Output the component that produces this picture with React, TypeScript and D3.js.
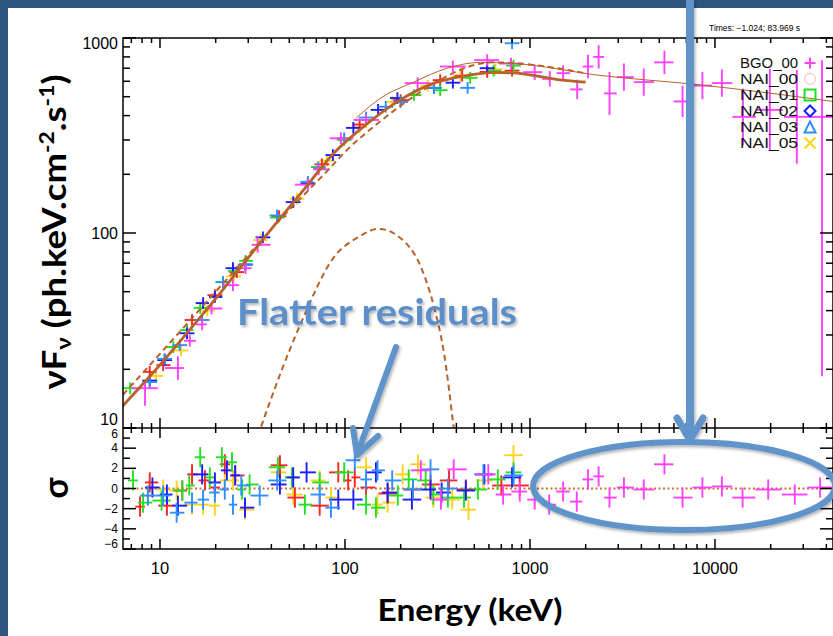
import React from "react";
import * as d3 from "d3";

// nuFnu spectrum, energies in keV
const modelE = [6.3, 9.17, 14, 21.1, 31.8, 48.5, 57.8, 87.2, 133, 200, 303, 460, 636, 850, 1450, 2000];
const modelF = [13, 19.2, 30.7, 49, 80, 131, 160, 257, 366, 483, 587, 643, 667, 660, 610, 594];
const bandE = [6.3, 10, 20, 30, 43, 77, 104, 156, 220, 318, 460, 636, 1040, 1980];
const bandF = [14.8, 24, 50, 77, 113, 200, 270, 375, 480, 600, 710, 750, 728, 660];
const thinE = [115, 156, 235, 357, 541, 822, 2390, 8300, 43400];
const thinF = [389, 492, 594, 700, 750, 740, 643, 575, 473];
const bbE = [30, 35, 57.8, 87, 117.6, 152, 200, 257, 303, 343, 384, 420];
const bbF = [6.5, 10, 34.5, 75, 95, 105, 94, 67, 41.7, 24.2, 10.6, 5];

const nai00E = [8.8, 10.4, 14.9, 19.8, 26, 44, 75, 120, 200, 327, 430, 587, 800];
const nai00F = [19.4, 21, 35.8, 48, 63, 122, 225, 360, 480, 608, 640, 670, 680];
const nai01E = [6.9, 11.8, 14, 16.5, 21.9, 24.8, 29, 43, 71.8, 99, 130, 236, 327, 475, 636, 815];
const nai01F = [16, 26, 31.8, 41.3, 56, 64, 72, 120, 218, 300, 380, 510, 540, 625, 680, 722];
const nai02E = [8.8, 10.6, 14, 17.1, 19.8, 24.8, 28.9, 36, 52.5, 63, 86, 111, 151, 192, 303, 383, 587];
const nai02F = [17.5, 22.3, 30.6, 43.7, 47, 66, 69, 95, 144, 180, 251, 346, 428, 492, 555, 590, 700];
const nai03E = [8.8, 10.6, 12.8, 16.9, 21.9, 28.9, 42.9, 63, 71.8, 99, 130, 166, 200, 303, 460, 800];
const nai03F = [17.2, 22.6, 26.6, 35.8, 56, 68.5, 123, 183, 215, 306, 391, 444, 470, 555, 555, 940];
const nai05E = [9.5, 13, 18, 25, 35, 55, 80, 120, 180, 280, 420, 650];
const nai05F = [18.5, 25, 40, 60, 92, 150, 235, 350, 470, 570, 640, 690];

const bgoE = [8.3, 12.5, 14.5, 16.9, 19, 24.8, 29, 33.7, 63, 72, 95, 130, 247, 383, 587, 790, 1060, 1280, 1510, 1800, 2060, 2350, 2690, 3220, 4120, 5330, 6680, 8550, 10900, 14170, 19800, 27700, 37900];
const bgoF = [16, 20.3, 28, 34, 41, 54, 66, 87, 177, 212, 306, 380, 587, 714, 770, 740, 668, 617, 660, 545, 714, 800, 520, 630, 594, 750, 473, 570, 587, 394, 428, 394, 394];
const bgoUp = [0.03, 0.06, 0.03, 0.03, 0.03, 0.03, 0.03, 0.04, 0.03, 0.03, 0.03, 0.03, 0.03, 0.03, 0.03, 0.03, 0.04, 0.04, 0.04, 0.05, 0.06, 0.06, 0.11, 0.07, 0.07, 0.06, 0.08, 0.07, 0.07, 0.145, 0.21, 0.24, 0.29];
const bgoDn = [0.09, 0.06, 0.03, 0.03, 0.03, 0.03, 0.03, 0.04, 0.03, 0.03, 0.03, 0.03, 0.03, 0.03, 0.03, 0.03, 0.04, 0.04, 0.04, 0.05, 0.06, 0.06, 0.11, 0.07, 0.07, 0.06, 0.08, 0.07, 0.07, 0.145, 0.21, 0.24, 1.33];

// residuals in sigma
const nai00RE = [7.8, 8.8, 10.9, 13.2, 14.9, 17.5, 19.8, 22.4, 25.5, 44.5, 53.6, 73, 92, 104, 113, 130, 170, 233, 290, 365, 450, 700, 880];
const nai00R = [-1.8, 0.6, -1.7, -0.2, 1.4, 0.8, 0.1, 2.4, 1.3, 2.3, -0.9, -1.7, 1.6, 0.8, 1.1, 0.1, -0.5, -0.1, 0.4, 0.8, -0.1, 0.3, 0.3];
const nai01RE = [7.15, 8.1, 10.2, 13.2, 14.4, 16.5, 18.6, 21.6, 24.5, 27.8, 30.5, 43.4, 51.7, 60.7, 73, 99, 130, 147, 193, 221, 273, 300, 360, 440, 523, 670, 815];
const nai01R = [0.8, -1.4, -1.2, -0.2, 0.3, 3.1, 1.1, 3.1, 2.6, -0.1, 0.4, 2.1, 1.1, -1.6, 0.6, 1.6, -1.6, -1.9, -0.7, 0.9, 0.8, -0.6, -0.9, -0.9, -0.1, 0.9, 1.6];
const nai02RE = [9.1, 10.9, 12.5, 16.9, 19.8, 23, 25.5, 28.8, 44.5, 52.5, 62, 92, 111, 147, 170, 230, 290, 333, 450, 567, 800];
const nai02R = [0.1, -0.6, -1.7, 1.4, 0.6, 1.8, 1.3, -1.9, 0.4, 1.1, 1.6, -1.1, -1.1, 1.6, -0.4, -1.1, -0.1, -0.4, -0.2, 1.4, 1.1];
const nai03RE = [8.6, 10.4, 12.3, 14.9, 17.1, 19.8, 22.4, 24.8, 27.5, 34.6, 43, 73, 84, 113, 130, 150, 180, 233, 290, 360, 560, 815];
const nai03R = [-0.7, -0.7, -2.4, -1.4, -1.1, -0.4, -0.1, -1.6, 0.3, -0.7, 0.8, -0.6, -1.9, 2.8, 0.9, 1.8, 0.8, -0.1, 1.9, 0, 1.4, 1.3];
const nai05RE = [8.6, 10.4, 12.3, 14.9, 17.1, 19.8, 22.4, 24.8, 28.8, 44.5, 52.5, 73, 84, 130, 150, 170, 205, 248, 300, 380, 465, 560, 815];
const nai05R = [-0.7, -0.1, -0.2, -1.6, -1.6, -1.7, 0.8, 0.8, -2.1, 1.6, -0.6, 0.8, -0.9, 2.1, -1.6, -1.4, 1.4, 2.4, -0.9, -1.1, -2.1, 0.8, 3.3];
const bgoRE = [257, 330, 387, 595, 716, 880, 1060, 1270, 1510, 1790, 2060, 2350, 2690, 3220, 4120, 5330, 6680, 8550, 10900, 14100, 19400, 27000, 37000];
const bgoR = [1.8, -1.1, 1.9, 1.4, -0.6, -0.3, -1.1, -1.6, -0.3, -1.3, 0.9, 1.2, -0.9, 0.1, -0.1, 2.4, -0.9, 0.1, 0.2, -0.9, -0.1, -0.6, 0.1];

const xMajor = [10, 100, 1000, 10000];
const fluxLabels = [10, 100, 1000];
const sigmaLabels = [6, 4, 2, 0, -2, -4, -6];

const W = 833, H = 636;
const PL = 123, PR = 833, PT = 38, PM = 428, PB = 549;
const BROWN = "#b8622a";
const BLUE = "#5f93ca";
const NUM = "'Liberation Sans', Arial, sans-serif";
const SLIDE = "Lato, 'Open Sans', sans-serif";

const x = d3.scaleLog().domain([6.31, 43450]).range([PL, PR]);
const yF = d3.scaleLog().domain([10, 1000]).range([PM, PT]);
const yR = d3.scaleLinear().domain([-6, 6]).range([PB, PM]);

const nai = [
  { name: "NAI_05", color: "#ffd21a", E: nai05E, F: nai05F, RE: nai05RE, R: nai05R },
  { name: "NAI_00", color: "#ff2424", E: nai00E, F: nai00F, RE: nai00RE, R: nai00R },
  { name: "NAI_01", color: "#22e022", E: nai01E, F: nai01F, RE: nai01RE, R: nai01R },
  { name: "NAI_02", color: "#1c1cff", E: nai02E, F: nai02F, RE: nai02RE, R: nai02R },
  { name: "NAI_03", color: "#2f8fff", E: nai03E, F: nai03F, RE: nai03RE, R: nai03R },
];
const MAGENTA = "#ff40ff";

// bin edges from half the log-distance to neighbouring channels
const bins = (E: number[], cap: number) =>
  E.map((e, i) => {
    const prev = i > 0 ? Math.log10(e / E[i - 1]) / 2 : NaN;
    const next = i < E.length - 1 ? Math.log10(E[i + 1] / e) / 2 : NaN;
    const lo = Math.max(0.015, Math.min(cap, isNaN(prev) ? next : prev));
    const hi = Math.max(0.015, Math.min(cap, isNaN(next) ? prev : next));
    return [e / 10 ** lo, e * 10 ** hi];
  });

const fluxLine = d3
  .line<[number, number]>()
  .x((d) => x(d[0]))
  .y((d) => yF(d[1]))
  .curve(d3.curveMonotoneX);

const Cross = ({ x1, x2, xc, y1, y2, yc, color }: any) => (
  <g stroke={color} strokeWidth={1.9}>
    <line x1={x1} x2={x2} y1={yc} y2={yc} />
    <line x1={xc} x2={xc} y1={y1} y2={y2} />
  </g>
);

const ERR = 0.03;

const App = () => {
  const xTicks = x.ticks();
  const isMajor = (v: number) => Math.abs(Math.log10(v) - Math.round(Math.log10(v))) < 1e-6;
  const fTicks = yF.ticks();
  const rTicks = d3.range(-6, 7, 1);

  const legend = [
    { name: "BGO_00", color: MAGENTA, sym: "plus" },
    { name: "NAI_00", color: "#ffc8c8", sym: "circle" },
    { name: "NAI_01", color: "#22dd22", sym: "square" },
    { name: "NAI_02", color: "#1c1cff", sym: "diamond" },
    { name: "NAI_03", color: "#2f8fff", sym: "triangle" },
    { name: "NAI_05", color: "#ffd21a", sym: "x" },
  ];

  const symbol = (s: string, cx: number, cy: number, c: string) => {
    const r = 5.5;
    const p = { stroke: c, strokeWidth: 2, fill: "none" };
    if (s === "plus") return <path d={`M${cx - r},${cy}H${cx + r}M${cx},${cy - r}V${cy + r}`} {...p} />;
    if (s === "circle") return <circle cx={cx} cy={cy} r={r} {...p} strokeWidth={1.3} />;
    if (s === "square") return <rect x={cx - r} y={cy - r} width={2 * r} height={2 * r} {...p} />;
    if (s === "diamond") return <path d={`M${cx},${cy - r}L${cx + r},${cy}L${cx},${cy + r}L${cx - r},${cy}Z`} {...p} />;
    if (s === "triangle") return <path d={`M${cx},${cy - r}L${cx + r},${cy + r}L${cx - r},${cy + r}Z`} {...p} />;
    return <path d={`M${cx - r},${cy - r}L${cx + r},${cy + r}M${cx + r},${cy - r}L${cx - r},${cy + r}`} {...p} />;
  };

  const xAxisTicks = (y0: number, dir: number, key: string) =>
    xTicks.map((v, i) => (
      <line key={key + i} x1={x(v)} x2={x(v)} y1={y0} y2={y0 + dir * (isMajor(v) ? 10 : 5)} />
    ));

  return (
    <svg width={W} height={H} style={{ position: "absolute", left: 0, top: 0, display: "block" }}>
      <defs>
        <clipPath id="upper">
          <rect x={PL} y={PT} width={PR - PL} height={PM - PT} />
        </clipPath>
        <clipPath id="lower">
          <rect x={PL} y={PM} width={PR - PL} height={PB - PM} />
        </clipPath>
        <filter id="shadow" x="-10%" y="-10%" width="130%" height="130%">
          <feDropShadow dx="1.5" dy="2" stdDeviation="1.5" floodColor="#000" floodOpacity="0.3" />
        </filter>
      </defs>

      <rect width={W} height={H} fill="#2d5680" />
      <rect x={8} y={8} width={W - 8} height={H - 8} fill="#ffffff" />

      {/* upper panel data */}
      <g clipPath="url(#upper)">
        {nai.map((d) => {
          const b = bins(d.E, 0.04);
          return d.E.map((e, i) => (
            <Cross
              key={d.name + i}
              x1={x(b[i][0])}
              x2={x(b[i][1])}
              xc={x(e)}
              yc={yF(d.F[i])}
              y1={yF(d.F[i] / 10 ** ERR)}
              y2={yF(d.F[i] * 10 ** ERR)}
              color={d.color}
            />
          ));
        })}
        {bins(bgoE, 0.07).map((b, i) => (
          <Cross
            key={"bgo" + i}
            x1={x(b[0])}
            x2={x(b[1])}
            xc={x(bgoE[i])}
            yc={yF(bgoF[i])}
            y1={yF(bgoF[i] / 10 ** bgoDn[i])}
            y2={yF(bgoF[i] * 10 ** bgoUp[i])}
            color={MAGENTA}
          />
        ))}
        <path d={fluxLine(d3.zip(thinE, thinF) as any) || ""} fill="none" stroke={BROWN} strokeWidth={1} />
        <path d={fluxLine(d3.zip(bandE, bandF) as any) || ""} fill="none" stroke={BROWN} strokeWidth={2} strokeDasharray="6,4" />
        <path d={fluxLine(d3.zip(bbE, bbF) as any) || ""} fill="none" stroke={BROWN} strokeWidth={2} strokeDasharray="6,4" />
        <path d={fluxLine(d3.zip(modelE, modelF) as any) || ""} fill="none" stroke={BROWN} strokeWidth={2.8} />
      </g>

      {/* residuals */}
      <g clipPath="url(#lower)">
        <line x1={PL} x2={PR} y1={yR(0)} y2={yR(0)} stroke="#c8702a" strokeWidth={2} strokeDasharray="2,2.5" />
        {nai.map((d) => {
          const b = bins(d.RE, 0.05);
          return d.RE.map((e, i) => (
            <Cross
              key={"r" + d.name + i}
              x1={x(b[i][0])}
              x2={x(b[i][1])}
              xc={x(e)}
              yc={yR(d.R[i])}
              y1={yR(d.R[i] - 1)}
              y2={yR(d.R[i] + 1)}
              color={d.color}
            />
          ));
        })}
        {bins(bgoRE, 0.07).map((b, i) => (
          <Cross
            key={"rb" + i}
            x1={x(b[0])}
            x2={x(b[1])}
            xc={x(bgoRE[i])}
            yc={yR(bgoR[i])}
            y1={yR(bgoR[i] - 1)}
            y2={yR(bgoR[i] + 1)}
            color={MAGENTA}
          />
        ))}
      </g>

      {/* frames and ticks */}
      <g stroke="#000" strokeWidth={1.5} fill="none">
        <rect x={PL} y={PT} width={PR - PL} height={PB - PT} />
        <line x1={PL} x2={PR} y1={PM} y2={PM} />
        {xAxisTicks(PT, 1, "t")}
        {xAxisTicks(PM, -1, "m1")}
        {xAxisTicks(PM, 1, "m2")}
        {xAxisTicks(PB, -1, "b")}
        {fTicks.map((v, i) => (
          <g key={"f" + i}>
            <line x1={PL} x2={PL + (isMajor(v) ? 13 : 7)} y1={yF(v)} y2={yF(v)} />
            <line x1={PR} x2={PR - (isMajor(v) ? 13 : 7)} y1={yF(v)} y2={yF(v)} />
          </g>
        ))}
        {rTicks.map((v) => (
          <g key={"r" + v}>
            <line x1={PL} x2={PL + (v % 2 === 0 ? 13 : 7)} y1={yR(v)} y2={yR(v)} />
            <line x1={PR} x2={PR - (v % 2 === 0 ? 13 : 7)} y1={yR(v)} y2={yR(v)} />
          </g>
        ))}
      </g>

      {/* tick labels */}
      <g fontFamily={NUM} fontSize={16} fill="#000">
        {fluxLabels.map((v, i) => (
          <text
            key={"fl" + v}
            x={PL - 5}
            y={yF(v) + (i === 0 ? -9 : i === fluxLabels.length - 1 ? 5 : 0)}
            textAnchor="end"
            dominantBaseline="central"
          >
            {v}
          </text>
        ))}
        {xMajor.map((v) => (
          <text key={"xl" + v} x={x(v)} y={574} textAnchor="middle" fontSize={16.5}>
            {v}
          </text>
        ))}
      </g>
      <g fontFamily={NUM} fontSize={12} fill="#000">
        {sigmaLabels.map((v, i) => (
          <text
            key={"sl" + v}
            x={PL - 5}
            y={yR(v) + (i === 0 ? 6 : i === sigmaLabels.length - 1 ? -5 : 0)}
            textAnchor="end"
            dominantBaseline="central"
          >
            {v < 0 ? "\u2212" + Math.abs(v) : v}
          </text>
        ))}
      </g>

      {/* legend */}
      <g fontFamily={NUM} fontSize={14.5} fill="#111">
        {legend.map((l, i) => (
          <g key={l.name}>
            <text x={798} y={63 + i * 16} textAnchor="end" dominantBaseline="central" textLength={58} lengthAdjust="spacingAndGlyphs">
              {l.name}
            </text>
            {symbol(l.sym, 810, 63 + i * 16, l.color)}
          </g>
        ))}
      </g>
      <text x={709} y={31} fontFamily={NUM} fontSize={8.5} fill="#000">
        Times:  −1.024;  83.969  s
      </text>

      {/* axis titles */}
      <text
        transform="translate(66,232) rotate(-90)"
        textAnchor="middle"
        fontFamily={SLIDE}
        fontWeight={700}
        fontSize={32}
        fill="#000"
        textLength={315}
        lengthAdjust="spacingAndGlyphs"
      >
        νF
        <tspan fontSize={21} baselineShift="-25%">ν</tspan>
        <tspan> (ph.keV.cm</tspan>
        <tspan fontSize={20} baselineShift="super">-2</tspan>
        <tspan>.s</tspan>
        <tspan fontSize={20} baselineShift="super">-1</tspan>
        <tspan>)</tspan>
      </text>
      <text
        transform="translate(68,488) rotate(-90)"
        textAnchor="middle"
        fontFamily={SLIDE}
        fontWeight={700}
        fontSize={34}
        fill="#000"
      >
        σ
      </text>
      <text
        x={470}
        y={621}
        textAnchor="middle"
        fontFamily={SLIDE}
        fontWeight={700}
        fontSize={31}
        fill="#000"
        textLength={185}
        lengthAdjust="spacingAndGlyphs"
      >
        Energy (keV)
      </text>

      {/* slide annotations */}
      <g stroke={BLUE} fill="none" filter="url(#shadow)" strokeLinecap="round" strokeLinejoin="round">
        <ellipse cx={684} cy={486} rx={151} ry={44} strokeWidth={6} />
        <line x1={690} x2={690} y1={0} y2={438} strokeWidth={8} strokeLinecap="butt" />
        <polyline points="677,418 690,440 703,418" strokeWidth={7} />
        <line x1={396} y1={347} x2={358} y2={452} strokeWidth={6} />
        <polyline points="353,428 357,455 378,436" strokeWidth={6} />
      </g>
      <text
        x={377}
        y={325}
        textAnchor="middle"
        fontFamily={SLIDE}
        fontWeight={700}
        fontSize={36}
        fill="#5b8ec9"
        textLength={280}
        lengthAdjust="spacingAndGlyphs"
        filter="url(#shadow)"
      >
        Flatter residuals
      </text>
    </svg>
  );
};

export default App;
